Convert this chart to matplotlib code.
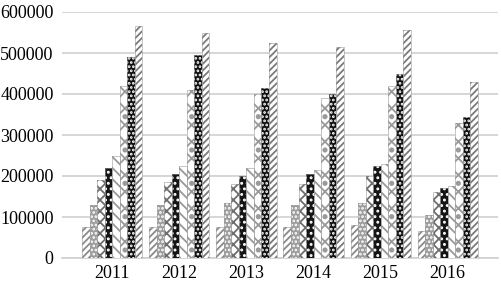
import numpy as np
import matplotlib.pyplot as plt

plt.rcParams['font.family'] = ['Liberation Serif', 'DejaVu Serif']
plt.rcParams['hatch.linewidth'] = 1.3

# Data
years = ['2011', '2012', '2013', '2014', '2015', '2016']
s1 = [75000, 75000, 75000, 75000, 80000, 65000]
s2 = [130000, 130000, 135000, 130000, 135000, 105000]
s3 = [190000, 185000, 180000, 180000, 200000, 160000]
s4 = [220000, 205000, 200000, 205000, 225000, 170000]
s5 = [250000, 225000, 220000, 215000, 230000, 175000]
s6 = [420000, 410000, 400000, 390000, 420000, 330000]
s7 = [490000, 495000, 415000, 400000, 450000, 345000]
s8 = [565000, 550000, 525000, 515000, 555000, 430000]

series = [s1, s2, s3, s4, s5, s6, s7, s8]
styles = [
    dict(facecolor='white', edgecolor='#8a8a8a', hatch='/////'),
    dict(facecolor='#9c9c9c', edgecolor='white', hatch='....'),
    dict(facecolor='white', edgecolor='#6e6e6e', hatch='xxx'),
    dict(facecolor='#151515', edgecolor='white', hatch='...'),
    dict(facecolor='white', edgecolor='#999999', hatch='\\\\\\'),
    dict(facecolor='white', edgecolor='#9a9a9a', hatch='xx.'),
    dict(facecolor='#111111', edgecolor='white', hatch='....'),
    dict(facecolor='white', edgecolor='#7a7a7a', hatch='/////'),
]

fig = plt.figure(figsize=(5.02, 2.86), dpi=100)
ax = fig.add_axes([62 / 502, 28 / 286, 436 / 502, 246 / 286])

x = np.arange(len(years))
w = 0.112
for i, (vals, st) in enumerate(zip(series, styles)):
    ax.bar(x + (i - 3.5) * w, vals, width=w, linewidth=0, zorder=3, **st)
    # faint outline to separate the bars
    ax.bar(x + (i - 3.5) * w, vals, width=w, facecolor='none',
           edgecolor='#9a9a9a', linewidth=0.4, zorder=4)

ax.set_ylim(0, 600000)
ax.set_xlim(-0.75, 5.75)
ax.set_yticks(np.arange(0, 600001, 100000))
ax.set_xticks(x)
ax.set_xticklabels(years)
ax.yaxis.grid(True, color='#d0d0d0', linewidth=1.2, zorder=0)
ax.tick_params(axis='both', length=0, labelsize=13)
ax.tick_params(axis='y', pad=6)
ax.tick_params(axis='x', pad=5)
for side in ['top', 'right', 'left']:
    ax.spines[side].set_visible(False)
ax.spines['bottom'].set_color('#d0d0d0')
ax.spines['bottom'].set_linewidth(1.2)

fig.savefig('out.png', dpi=100)
